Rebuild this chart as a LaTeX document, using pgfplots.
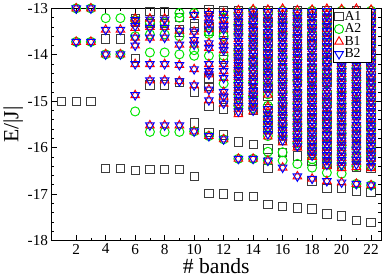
\documentclass[border=0pt]{standalone}
\usepackage{fontspec}
\setmainfont{Liberation Serif}
\usepackage{pgfplots}
\pgfplotsset{compat=1.18}
\definecolor{agray}{RGB}{60,60,60}
\definecolor{agreen}{RGB}{0,230,0}
\begin{document}
\begin{tikzpicture}
\begin{axis}[
 scale only axis, width=335pt, height=236pt,
 xmin=0.33, xmax=22.67, ymin=-18, ymax=-13,
 xtick={2,4,...,22}, ytick={-18,-17,...,-13},
 minor x tick num=1, minor y tick num=4,
 tick align=inside, major tick length=6pt, minor tick length=3pt,
 tick style={black, line width=0.8pt},
 axis line style={line width=0.8pt},
 ticklabel style={font=\fontsize{15.5}{15.5}\selectfont},
 /pgf/number format/assume math mode=true,
 xlabel={\# bands}, ylabel={E/|J|},
 label style={font=\fontsize{22}{22}\selectfont},
 ylabel style={yshift=-2pt},
 xlabel style={yshift=3pt},
 clip=false,
 legend style={at={(rel axis cs:0.973,1)}, anchor=north east, font=\fontsize{14}{14}\selectfont, draw=black, line width=0.8pt, inner sep=1.5pt, row sep=0pt, nodes={inner sep=1pt}},
 legend cell align=left,
 legend image code/.code={\draw[mark repeat=2,mark phase=2] plot coordinates {(0cm,0cm)(0.2cm,0cm)(0.4cm,0cm)};},
]
\addplot[only marks, mark=square, mark size=4.2pt, agray, line width=1pt] coordinates {
(1,-15.0)(2,-15.0)(3,-15.0)
(4,-13.66)(4,-16.45)(5,-13.66)(5,-16.45)
(6,-13.21)(6,-13.3)(6,-14.08)(6,-16.5)
(7,-13.07)(7,-13.33)(7,-14.65)(7,-16.47)
(8,-13.07)(8,-13.33)(8,-14.65)(8,-16.47)
(9,-13.2)(9,-13.45)(9,-13.52)(9,-14.6)(9,-16.47)
(10,-13.33)(10,-13.4)(10,-14.8)(10,-15.47)(10,-16.62)
(11,-13.02)(11,-13.4)(11,-13.5)(11,-14.52)(11,-14.69)(11,-15.12)(11,-15.68)(11,-16.98)
(12,-13.04)(12,-13.1)(12,-13.52)(12,-14.1)(12,-14.95)(12,-15.18)(12,-15.73)(12,-17.0)
(13,-13.05)(13,-13.3)(13,-13.45)(13,-13.85)(13,-14.1)(13,-14.2)(13,-14.45)(13,-14.65)(13,-14.85)(13,-15.05)(13,-15.25)(13,-15.88)(13,-17.06)
(14,-13.1)(14,-13.25)(14,-13.5)(14,-13.7)(14,-13.95)(14,-14.15)(14,-14.35)(14,-14.55)(14,-14.8)(14,-15.0)(14,-15.2)(14,-15.93)(14,-17.06)
(15,-13.05)(15,-13.3)(15,-13.55)(15,-13.75)(15,-14.0)(15,-14.2)(15,-14.45)(15,-14.7)(15,-14.9)(15,-15.15)(15,-15.4)(15,-15.6)(15,-16.03)(15,-16.45)(15,-17.22)
(16,-13.15)(16,-13.4)(16,-13.6)(16,-13.85)(16,-14.05)(16,-14.3)(16,-14.5)(16,-14.75)(16,-15.0)(16,-15.2)(16,-15.45)(16,-15.65)(16,-15.85)(16,-16.11)(16,-17.27)
(17,-13.05)(17,-13.3)(17,-13.5)(17,-13.75)(17,-13.95)(17,-14.2)(17,-14.4)(17,-14.6)(17,-14.85)(17,-15.1)(17,-15.3)(17,-15.55)(17,-15.75)(17,-15.95)(17,-16.18)(17,-17.30)
(18,-13.1)(18,-13.35)(18,-13.6)(18,-13.8)(18,-14.05)(18,-14.3)(18,-14.5)(18,-14.75)(18,-14.95)(18,-15.2)(18,-15.4)(18,-15.65)(18,-15.85)(18,-16.05)(18,-16.3)(18,-16.72)(18,-17.32)
(19,-13.05)(19,-13.25)(19,-13.5)(19,-13.7)(19,-13.95)(19,-14.15)(19,-14.4)(19,-14.6)(19,-14.85)(19,-15.05)(19,-15.3)(19,-15.5)(19,-15.75)(19,-15.95)(19,-16.15)(19,-16.35)(19,-16.88)(19,-17.43)
(20,-13.1)(20,-13.35)(20,-13.55)(20,-13.8)(20,-14.0)(20,-14.25)(20,-14.45)(20,-14.7)(20,-14.9)(20,-15.15)(20,-15.35)(20,-15.6)(20,-15.8)(20,-16.03)(20,-16.25)(20,-16.4)(20,-16.88)(20,-17.47)
(21,-13.05)(21,-13.3)(21,-13.5)(21,-13.75)(21,-13.95)(21,-14.2)(21,-14.4)(21,-14.65)(21,-14.85)(21,-15.1)(21,-15.3)(21,-15.55)(21,-15.75)(21,-15.95)(21,-16.2)(21,-16.42)(21,-16.95)(21,-17.57)
(22,-13.1)(22,-13.3)(22,-13.55)(22,-13.75)(22,-14.0)(22,-14.2)(22,-14.45)(22,-14.65)(22,-14.9)(22,-15.1)(22,-15.35)(22,-15.55)(22,-15.8)(22,-16.0)(22,-16.2)(22,-16.45)(22,-16.96)(22,-17.62)
};
\addlegendentry{A1\hspace*{8pt}}
\addplot[only marks, mark=o, mark size=4.6pt, agreen, line width=1pt] coordinates {
(2,-13.0)(2,-13.72)(3,-13.0)(3,-13.72)
(4,-13.21)(4,-13.99)(5,-13.21)(5,-13.99)
(6,-13.25)(6,-13.6)(6,-15.22)
(7,-13.3)(7,-13.56)(7,-13.95)(7,-15.66)
(8,-13.3)(8,-13.56)(8,-13.95)(8,-15.66)
(9,-13.1)(9,-13.2)(9,-13.6)(9,-13.99)(9,-15.66)
(10,-13.1)(10,-13.9)(10,-14.02)(10,-15.65)
(11,-13.5)(11,-13.55)(11,-14.02)(11,-15.75)
(12,-13.2)(12,-13.6)(12,-14.02)(12,-14.62)(12,-15.82)
(13,-13.1)(13,-13.35)(13,-13.55)(13,-13.9)(13,-14.0)(13,-14.35)(13,-14.6)(13,-14.85)(13,-15.1)(13,-16.24)
(14,-13.05)(14,-13.3)(14,-13.6)(14,-13.8)(14,-14.1)(14,-14.3)(14,-14.6)(14,-14.9)(14,-15.15)(14,-16.24)
(15,-13.1)(15,-13.35)(15,-13.6)(15,-13.85)(15,-14.1)(15,-14.35)(15,-14.6)(15,-14.85)(15,-15.1)(15,-15.35)(15,-15.55)(15,-15.75)(15,-16.09)(15,-16.28)
(16,-13.05)(16,-13.3)(16,-13.55)(16,-13.8)(16,-14.05)(16,-14.3)(16,-14.55)(16,-14.8)(16,-15.05)(16,-15.3)(16,-15.5)(16,-15.75)(16,-16.1)(16,-16.28)
(17,-13.1)(17,-13.35)(17,-13.6)(17,-13.85)(17,-14.1)(17,-14.35)(17,-14.55)(17,-14.8)(17,-15.05)(17,-15.3)(17,-15.5)(17,-15.7)(17,-15.9)(17,-16.35)
(18,-13.05)(18,-13.3)(18,-13.55)(18,-13.8)(18,-14.05)(18,-14.3)(18,-14.55)(18,-14.8)(18,-15.0)(18,-15.25)(18,-15.5)(18,-15.7)(18,-15.95)(18,-16.15)(18,-16.25)(18,-16.43)
(19,-13.1)(19,-13.35)(19,-13.6)(19,-13.85)(19,-14.1)(19,-14.35)(19,-14.6)(19,-14.8)(19,-15.05)(19,-15.3)(19,-15.5)(19,-15.75)(19,-15.95)(19,-16.2)(19,-16.35)(19,-16.54)
(20,-13.05)(20,-13.3)(20,-13.55)(20,-13.8)(20,-14.05)(20,-14.3)(20,-14.55)(20,-14.8)(20,-15.05)(20,-15.25)(20,-15.5)(20,-15.7)(20,-15.95)(20,-16.15)(20,-16.35)(20,-16.56)
(21,-13.1)(21,-13.35)(21,-13.6)(21,-13.85)(21,-14.1)(21,-14.3)(21,-14.55)(21,-14.8)(21,-15.05)(21,-15.3)(21,-15.55)(21,-15.75)(21,-16.0)(21,-16.2)(21,-16.4)(21,-16.78)
(22,-13.05)(22,-13.3)(22,-13.55)(22,-13.8)(22,-14.05)(22,-14.3)(22,-14.55)(22,-14.75)(22,-15.0)(22,-15.25)(22,-15.5)(22,-15.7)(22,-15.95)(22,-16.15)(22,-16.4)(22,-16.81)
};
\addlegendentry{A2\hspace*{8pt}}
\addplot[only marks, mark=triangle, mark size=5pt, red, line width=1pt] coordinates {
(2,-13.0)(2,-13.72)(3,-13.0)(3,-13.72)
(4,-13.46)(4,-13.99)(5,-13.46)(5,-13.99)
(6,-13.22)(6,-13.32)(6,-13.42)(6,-13.63)(6,-13.8)(6,-14.2)(6,-14.87)
(7,-13.22)(7,-13.4)(7,-13.63)(7,-14.2)(7,-14.55)(7,-15.52)
(8,-13.22)(8,-13.4)(8,-13.63)(8,-14.2)(8,-14.55)(8,-15.52)
(9,-13.48)(9,-13.78)(9,-14.22)(9,-14.57)(9,-15.52)
(10,-13.14)(10,-13.5)(10,-13.68)(10,-13.78)(10,-14.31)(10,-14.66)(10,-15.65)
(11,-13.1)(11,-13.2)(11,-13.3)(11,-13.45)(11,-13.75)(11,-13.85)(11,-14.2)(11,-14.35)(11,-14.42)(11,-14.75)(11,-14.98)(11,-15.75)
(12,-13.1)(12,-13.25)(12,-13.35)(12,-13.45)(12,-13.7)(12,-13.8)(12,-13.9)(12,-14.2)(12,-14.35)(12,-14.5)(12,-14.8)(12,-14.9)(12,-15.05)(12,-15.82)
(13,-13.04)(13,-13.13)(13,-13.24)(13,-13.33)(13,-13.45)(13,-13.54)(13,-13.66)(13,-13.75)(13,-13.86)(13,-13.97)(13,-14.06)(13,-14.18)(13,-14.27)(13,-14.39)(13,-14.48)(13,-14.6)(13,-14.71)(13,-14.8)(13,-14.92)(13,-15.03)(13,-15.16)(13,-15.28)(13,-16.24)
(14,-13.02)(14,-13.12)(14,-13.22)(14,-13.34)(14,-13.43)(14,-13.55)(14,-13.64)(14,-13.76)(14,-13.85)(14,-13.97)(14,-14.08)(14,-14.17)(14,-14.29)(14,-14.4)(14,-14.5)(14,-14.61)(14,-14.73)(14,-14.82)(14,-14.94)(14,-15.05)(14,-15.14)(14,-15.22)(14,-16.24)
(15,-13.03)(15,-13.14)(15,-13.25)(15,-13.35)(15,-13.46)(15,-13.57)(15,-13.67)(15,-13.78)(15,-13.89)(15,-14.0)(15,-14.1)(15,-14.21)(15,-14.32)(15,-14.43)(15,-14.53)(15,-14.64)(15,-14.75)(15,-14.86)(15,-15.12)(15,-15.22)(15,-15.33)(15,-15.44)(15,-15.54)(15,-15.65)(15,-15.76)(15,-16.28)
(16,-13.01)(16,-13.12)(16,-13.22)(16,-13.33)(16,-13.44)(16,-13.54)(16,-13.65)(16,-13.76)(16,-13.86)(16,-13.97)(16,-14.08)(16,-14.18)(16,-14.29)(16,-14.4)(16,-14.5)(16,-14.61)(16,-14.72)(16,-14.82)(16,-14.93)(16,-15.04)(16,-15.14)(16,-15.25)(16,-15.36)(16,-15.46)(16,-15.57)(16,-15.68)(16,-15.78)(16,-15.89)(16,-16.43)
(17,-13.04)(17,-13.15)(17,-13.25)(17,-13.36)(17,-13.47)(17,-13.57)(17,-13.68)(17,-13.79)(17,-13.89)(17,-14.0)(17,-14.11)(17,-14.21)(17,-14.32)(17,-14.43)(17,-14.53)(17,-14.64)(17,-14.75)(17,-14.85)(17,-14.96)(17,-15.07)(17,-15.17)(17,-15.28)(17,-15.39)(17,-15.49)(17,-15.6)(17,-15.71)(17,-15.81)(17,-15.92)(17,-16.0)(17,-16.62)
(18,-13.03)(18,-13.13)(18,-13.24)(18,-13.35)(18,-13.45)(18,-13.56)(18,-13.67)(18,-13.77)(18,-13.88)(18,-13.99)(18,-14.09)(18,-14.2)(18,-14.31)(18,-14.41)(18,-14.52)(18,-14.63)(18,-14.73)(18,-14.84)(18,-14.95)(18,-15.05)(18,-15.16)(18,-15.27)(18,-15.37)(18,-15.48)(18,-15.59)(18,-15.69)(18,-15.8)(18,-15.91)(18,-16.01)(18,-16.12)(18,-16.2)(18,-16.67)
(19,-13.01)(19,-13.12)(19,-13.23)(19,-13.33)(19,-13.44)(19,-13.55)(19,-13.65)(19,-13.76)(19,-13.87)(19,-13.97)(19,-14.08)(19,-14.19)(19,-14.29)(19,-14.4)(19,-14.51)(19,-14.61)(19,-14.72)(19,-14.83)(19,-14.93)(19,-15.04)(19,-15.15)(19,-15.25)(19,-15.36)(19,-15.47)(19,-15.57)(19,-15.68)(19,-15.79)(19,-15.89)(19,-16.0)(19,-16.11)(19,-16.21)(19,-16.32)(19,-16.4)(19,-16.72)
(20,-13.02)(20,-13.13)(20,-13.24)(20,-13.34)(20,-13.45)(20,-13.56)(20,-13.66)(20,-13.77)(20,-13.88)(20,-13.98)(20,-14.09)(20,-14.2)(20,-14.3)(20,-14.41)(20,-14.52)(20,-14.62)(20,-14.73)(20,-14.84)(20,-14.94)(20,-15.05)(20,-15.16)(20,-15.26)(20,-15.37)(20,-15.48)(20,-15.58)(20,-15.69)(20,-15.8)(20,-15.9)(20,-16.01)(20,-16.12)(20,-16.22)(20,-16.33)(20,-16.44)(20,-16.75)
(21,-13.01)(21,-13.11)(21,-13.22)(21,-13.33)(21,-13.43)(21,-13.54)(21,-13.65)(21,-13.75)(21,-13.86)(21,-13.97)(21,-14.07)(21,-14.18)(21,-14.29)(21,-14.39)(21,-14.5)(21,-14.61)(21,-14.71)(21,-14.82)(21,-14.93)(21,-15.03)(21,-15.14)(21,-15.25)(21,-15.35)(21,-15.46)(21,-15.57)(21,-15.67)(21,-15.78)(21,-15.89)(21,-15.99)(21,-16.1)(21,-16.21)(21,-16.31)(21,-16.42)(21,-16.78)
(22,-13.03)(22,-13.14)(22,-13.24)(22,-13.35)(22,-13.46)(22,-13.56)(22,-13.67)(22,-13.78)(22,-13.88)(22,-13.99)(22,-14.1)(22,-14.2)(22,-14.31)(22,-14.42)(22,-14.52)(22,-14.63)(22,-14.74)(22,-14.84)(22,-14.95)(22,-15.06)(22,-15.16)(22,-15.27)(22,-15.38)(22,-15.48)(22,-15.59)(22,-15.7)(22,-15.8)(22,-15.91)(22,-16.02)(22,-16.12)(22,-16.23)(22,-16.34)(22,-16.44)(22,-16.81)
};
\addlegendentry{B1\hspace*{8pt}}
\addplot[only marks, mark=triangle, mark options={rotate=180}, mark size=5pt, blue, line width=1pt] coordinates {
(2,-13.0)(2,-13.72)(3,-13.0)(3,-13.72)
(4,-13.46)(4,-13.99)(5,-13.46)(5,-13.99)
(6,-13.25)(6,-13.38)(6,-13.63)(6,-13.8)(6,-14.2)(6,-14.87)
(7,-13.24)(7,-13.42)(7,-13.63)(7,-14.2)(7,-14.55)(7,-15.52)
(8,-13.24)(8,-13.42)(8,-13.63)(8,-14.2)(8,-14.55)(8,-15.52)
(9,-13.48)(9,-13.78)(9,-14.22)(9,-14.57)(9,-15.52)
(10,-13.14)(10,-13.5)(10,-13.68)(10,-13.78)(10,-14.31)(10,-14.66)(10,-15.65)
(11,-13.12)(11,-13.22)(11,-13.32)(11,-13.45)(11,-13.75)(11,-13.85)(11,-14.2)(11,-14.35)(11,-14.42)(11,-14.75)(11,-14.98)(11,-15.75)
(12,-13.12)(12,-13.25)(12,-13.38)(12,-13.45)(12,-13.7)(12,-13.82)(12,-13.9)(12,-14.2)(12,-14.35)(12,-14.5)(12,-14.8)(12,-14.9)(12,-15.05)(12,-15.82)
(13,-13.08)(13,-13.19)(13,-13.29)(13,-13.4)(13,-13.5)(13,-13.6)(13,-13.7)(13,-13.81)(13,-13.92)(13,-14.02)(13,-14.12)(13,-14.22)(13,-14.33)(13,-14.44)(13,-14.54)(13,-14.65)(13,-14.76)(13,-14.86)(13,-14.97)(13,-15.1)(13,-15.22)(13,-16.24)
(14,-13.07)(14,-13.17)(14,-13.28)(14,-13.38)(14,-13.49)(14,-13.6)(14,-13.7)(14,-13.8)(14,-13.91)(14,-14.02)(14,-14.13)(14,-14.23)(14,-14.34)(14,-14.45)(14,-14.56)(14,-14.67)(14,-14.78)(14,-14.88)(14,-14.99)(14,-15.1)(14,-15.2)(14,-16.24)
(15,-13.08)(15,-13.19)(15,-13.3)(15,-13.41)(15,-13.51)(15,-13.62)(15,-13.73)(15,-13.84)(15,-13.94)(15,-14.05)(15,-14.16)(15,-14.27)(15,-14.37)(15,-14.48)(15,-14.59)(15,-14.7)(15,-14.8)(15,-15.17)(15,-15.28)(15,-15.38)(15,-15.49)(15,-15.6)(15,-15.71)(15,-16.28)
(16,-13.06)(16,-13.17)(16,-13.28)(16,-13.38)(16,-13.49)(16,-13.6)(16,-13.7)(16,-13.81)(16,-13.92)(16,-14.02)(16,-14.13)(16,-14.24)(16,-14.34)(16,-14.45)(16,-14.56)(16,-14.66)(16,-14.77)(16,-14.88)(16,-14.98)(16,-15.09)(16,-15.2)(16,-15.3)(16,-15.41)(16,-15.52)(16,-15.62)(16,-15.73)(16,-15.84)(16,-16.43)
(17,-13.09)(17,-13.2)(17,-13.3)(17,-13.41)(17,-13.52)(17,-13.62)(17,-13.73)(17,-13.84)(17,-13.94)(17,-14.05)(17,-14.16)(17,-14.26)(17,-14.37)(17,-14.48)(17,-14.58)(17,-14.69)(17,-14.8)(17,-14.9)(17,-15.01)(17,-15.12)(17,-15.22)(17,-15.33)(17,-15.44)(17,-15.54)(17,-15.65)(17,-15.76)(17,-15.86)(17,-15.97)(17,-16.62)
(18,-13.08)(18,-13.18)(18,-13.29)(18,-13.4)(18,-13.5)(18,-13.61)(18,-13.72)(18,-13.82)(18,-13.93)(18,-14.04)(18,-14.14)(18,-14.25)(18,-14.36)(18,-14.46)(18,-14.57)(18,-14.68)(18,-14.78)(18,-14.89)(18,-15.0)(18,-15.1)(18,-15.21)(18,-15.32)(18,-15.42)(18,-15.53)(18,-15.64)(18,-15.74)(18,-15.85)(18,-15.96)(18,-16.06)(18,-16.17)(18,-16.67)
(19,-13.06)(19,-13.17)(19,-13.28)(19,-13.38)(19,-13.49)(19,-13.6)(19,-13.7)(19,-13.81)(19,-13.92)(19,-14.02)(19,-14.13)(19,-14.24)(19,-14.34)(19,-14.45)(19,-14.56)(19,-14.66)(19,-14.77)(19,-14.88)(19,-14.98)(19,-15.09)(19,-15.2)(19,-15.3)(19,-15.41)(19,-15.52)(19,-15.62)(19,-15.73)(19,-15.84)(19,-15.94)(19,-16.05)(19,-16.16)(19,-16.26)(19,-16.37)(19,-16.72)
(20,-13.07)(20,-13.18)(20,-13.29)(20,-13.39)(20,-13.5)(20,-13.61)(20,-13.71)(20,-13.82)(20,-13.93)(20,-14.03)(20,-14.14)(20,-14.25)(20,-14.35)(20,-14.46)(20,-14.57)(20,-14.67)(20,-14.78)(20,-14.89)(20,-14.99)(20,-15.1)(20,-15.21)(20,-15.31)(20,-15.42)(20,-15.53)(20,-15.63)(20,-15.74)(20,-15.85)(20,-15.95)(20,-16.06)(20,-16.17)(20,-16.27)(20,-16.38)(20,-16.75)
(21,-13.06)(21,-13.16)(21,-13.27)(21,-13.38)(21,-13.48)(21,-13.59)(21,-13.7)(21,-13.8)(21,-13.91)(21,-14.02)(21,-14.12)(21,-14.23)(21,-14.34)(21,-14.44)(21,-14.55)(21,-14.66)(21,-14.76)(21,-14.87)(21,-14.98)(21,-15.08)(21,-15.19)(21,-15.3)(21,-15.4)(21,-15.51)(21,-15.62)(21,-15.72)(21,-15.83)(21,-15.94)(21,-16.04)(21,-16.15)(21,-16.26)(21,-16.36)(21,-16.78)
(22,-13.08)(22,-13.19)(22,-13.29)(22,-13.4)(22,-13.51)(22,-13.61)(22,-13.72)(22,-13.83)(22,-13.93)(22,-14.04)(22,-14.15)(22,-14.25)(22,-14.36)(22,-14.47)(22,-14.57)(22,-14.68)(22,-14.79)(22,-14.89)(22,-15.0)(22,-15.11)(22,-15.21)(22,-15.32)(22,-15.43)(22,-15.53)(22,-15.64)(22,-15.75)(22,-15.85)(22,-15.96)(22,-16.07)(22,-16.17)(22,-16.28)(22,-16.39)(22,-16.81)
};
\addlegendentry{B2\hspace*{8pt}}
\end{axis}
\end{tikzpicture}
\end{document}
